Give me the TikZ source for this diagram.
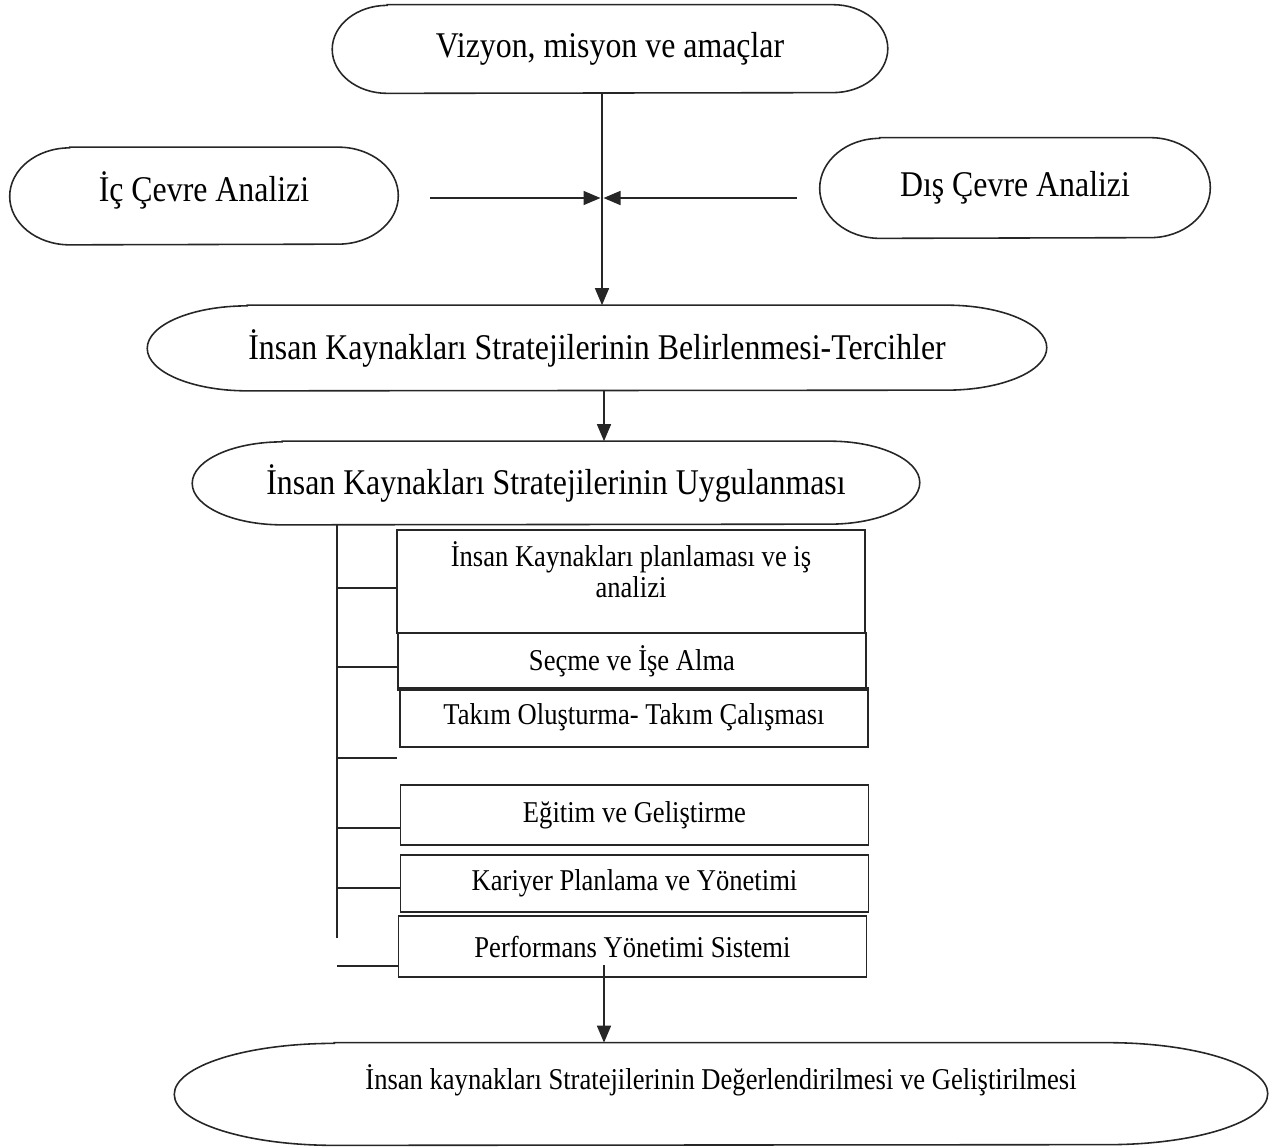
\documentclass[tikz,border=0pt]{standalone}
\usepackage{fontspec}
\setmainfont{Liberation Serif}[FakeStretch=0.88]
\usetikzlibrary{arrows.meta,calc}
\tikzset{
  ln/.style={line width=0.9pt, draw=black!85},
  arr/.style={ln, -{Triangle[length=0.34cm,width=0.28cm]}},
  shapebox/.style={draw=none, inner sep=0pt, align=center},
  bigtext/.style={font=\fontsize{20.6}{24}\selectfont},
  smalltext/.style={font=\fontsize{17.2}{19.5}\selectfont},
  itembox/.style={draw=black!85, line width=0.9pt, minimum width=9.36cm, inner sep=0pt, align=center, smalltext},
}
\newcommand\ovaloutline[3]{%
  \draw[ln] ([xshift=#2]#1.north west) -- ([xshift=-#2]#1.north east)
    arc[start angle=90,end angle=-90,x radius=#2,y radius=#3]
    -- ([xshift=#2]#1.south west)
    arc[start angle=270,end angle=90,x radius=#2,y radius=#3] -- cycle;}
\begin{document}
\begin{tikzpicture}[x=0.02cm,y=-0.02cm]
\useasboundingbox (0,0) rectangle (1275,1147);

% oval nodes
\node[shapebox, bigtext, minimum width=11.1cm, minimum height=1.76cm] (viz) at (610,49) {Vizyon, misyon ve amaçlar};
\ovaloutline{viz}{1.1cm}{0.88cm}
\node[shapebox, bigtext, minimum width=7.76cm, minimum height=1.94cm, text depth=0.36cm] (ic) at (204,196) {İç Çevre Analizi};
\ovaloutline{ic}{1.2cm}{0.97cm}
\node[shapebox, bigtext, minimum width=7.8cm, minimum height=2.0cm] (dis) at (1015,188) {Dış Çevre Analizi};
\ovaloutline{dis}{1.2cm}{1.0cm}
\node[shapebox, bigtext, minimum width=17.98cm, minimum height=1.7cm] (bel) at (597,348) {İnsan Kaynakları Stratejilerinin Belirlenmesi-Tercihler};
\ovaloutline{bel}{2.0cm}{0.85cm}
\node[shapebox, bigtext, minimum width=14.54cm, minimum height=1.66cm] (uyg) at (556,483) {İnsan Kaynakları Stratejilerinin Uygulanması};
\ovaloutline{uyg}{1.8cm}{0.83cm}
\node[shapebox, smalltext, minimum width=21.86cm, minimum height=2.04cm, text height=0.35cm, text depth=0.55cm] (bot) at (721,1094) {İnsan kaynakları Stratejilerinin Değerlendirilmesi ve Geliştirilmesi};
\ovaloutline{bot}{3.2cm}{1.02cm}

% item boxes
\node[itembox, minimum height=2.06cm, font=\fontsize{17.2}{17.8}\selectfont, text depth=0.48cm] (b1) at (631,581.5) {İnsan Kaynakları planlaması ve iş\\analizi};
\node[itembox, minimum height=1.14cm] (b2) at (632,661.5) {Seçme ve İşe Alma};
\node[itembox, minimum height=1.18cm] (b3) at (634,717.5) {Takım Oluşturma- Takım Çalışması};
\node[itembox, minimum height=1.2cm] (b4) at (634.5,815) {Eğitim ve Geliştirme};
\node[itembox, minimum height=1.14cm] (b5) at (634.5,883.5) {Kariyer Planlama ve Yönetimi};
\node[itembox, minimum height=1.22cm] (b6) at (632.5,946.5) {Performans Yönetimi Sistemi};

% connectors
\coordinate (j) at (602,198);
\coordinate (x2) at (604,0);
\draw[arr] (viz.south -| j) -- (bel.north -| j);
\draw[arr] ([xshift=0.64cm]ic.east |- j) -- ([xshift=-0.03cm]j);
\draw[arr] ([xshift=-0.46cm]dis.west |- j) -- ([xshift=0.03cm]j);
\draw[arr] (bel.south -| x2) -- (uyg.north -| x2);

% bracket
\coordinate (br) at (337,0);
\coordinate (brend) at (337,938);
\draw[ln] (uyg.south -| br) -- (brend);
\coordinate (t1) at (337,588);
\coordinate (t2) at (337,667);
\coordinate (t3) at (337,758);
\coordinate (t4) at (337,828);
\coordinate (t5) at (337,888);
\coordinate (t6) at (337,966);
\draw[ln] (t1) -- (t1 -| b1.west);
\draw[ln] (t2) -- (t2 -| b2.west);
\draw[ln] (t3) -- (t3 -| b2.west);
\draw[ln] (t4) -- (t4 -| b4.west);
\draw[ln] (t5) -- (t5 -| b5.west);
\draw[ln] (t6) -- (t6 -| b6.west);

% final arrow
\coordinate (a6) at (604,965);
\draw[arr] (a6) -- (a6 |- bot.north);
\end{tikzpicture}
\end{document}
